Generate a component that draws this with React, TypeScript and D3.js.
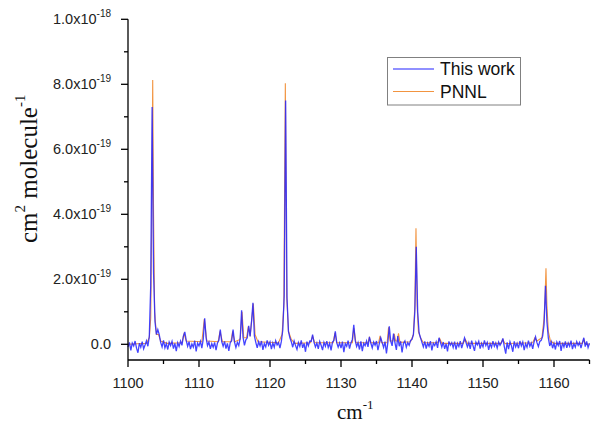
import React from "react";
import * as d3 from "d3";

// Measured spectrum on a regular grid (cm-1), values in units of 1e-20 cm2/molecule
const workStart = 1100;
const workStep = 0.2;
const thisWork = [
  -0.8, 0.6, -1.9, 0.4, -0.5, 1.0, -1.2, -2.6, 0.3, -0.9,
  0.8, -1.4, -0.2, 1.1, -0.6, 2.5, 18, 73, 22, 7,
  3, 4.5, 3, 0.6, -0.8, 1.2, -1.1, 0.2, -1.6, 0.7,
  -0.4, 0.9, -1.3, 0.3, -2.1, 0.5, -0.7, 1.0, -0.3, 2.5,
  3.8, 1.2, -0.6, 0.8, -1.5, 0.1, -0.9, 1.1, -2.2, 0.4,
  -0.5, 0.9, -1.2, 1.6, 8, 2, -0.4, 0.7, -1.4, 0.2,
  -0.9, 0.6, -1.8, 0.4, 1.2, 4.5, 0.8, -0.6, 0.9, -1.3,
  0.3, -2.0, 0.5, 1.1, 4.5, 0.7, -1.0, 0.6, -0.4, 1.8,
  10.5, 2.2, -0.3, 1.4, 2, 5.7, 2.4, 7, 12.8, 2.6,
  0.6, -1.1, 0.8, -0.5, 1.0, -1.7, 0.2, -0.8, 1.2, -0.3,
  0.7, -1.5, 0.4, -0.9, 1.1, -0.2, 0.5, -1.2, 0.9, 4.4,
  15, 75, 14, 4, 2, 0.8, -0.9, 1.0, -0.4, -1.6,
  0.5, -0.7, 1.2, -1.1, 0.3, -2.3, 0.8, -0.5, 1.0, 0.9,
  3, 0.6, -0.8, 0.4, -1.4, 0.9, -0.3, -1.8, 0.6, -0.6,
  1.0, -1.0, 0.3, -1.9, 0.7, 1.2, 4, 0.5, -0.9, 0.4,
  -1.2, 0.8, -2.4, 0.2, -0.6, 1.1, -1.3, 0.4, 1.5, 6,
  1.2, -0.7, 0.5, -1.6, 0.9, -2.1, 0.3, -0.4, 1.0, -0.8,
  2.3, 0.4, -1.1, 0.7, -0.3, 1.0, -1.8, 0.2, 2, 0.5,
  -1.0, 0.8, -2.8, 0.6, 5.5, 1.0, -0.5, 3.3, 0.4, -1.7,
  2.5, -0.6, 0.9, -2.5, 0.3, 1.0, -0.9, 0.5, -0.3, 1.2,
  1.5, 3, 10, 30, 10, 3.5, 2, 0.6, -0.8, 0.9,
  -1.3, 0.4, -0.6, 1.0, -1.9, 0.3, -0.4, 0.8, -1.1, 2,
  0.6, -0.9, 0.7, -1.4, 0.2, -2.2, 0.9, -0.3, 0.5, -1.0,
  0.8, -1.6, 0.3, -0.7, 1.0, -1.2, 0.4, 2, 0.6, -0.8,
  0.5, -1.4, 1.1, -0.5, -2.0, 0.7, -0.2, 0.9, -1.3, 0.3,
  -0.8, 1.2, -0.4, 0.6, -1.7, 0.2, -0.9, 1.0, -0.6, 0.4,
  -1.1, 0.7, -0.3, 0.5, 1.8, -0.7, -2.9, 0.6, -1.5, 0.8,
  -0.4, -2.3, 0.9, -0.8, 0.3, -1.2, 1.0, -0.5, 0.7, -1.8,
  0.2, -0.9, 1.1, -0.6, 0.4, -1.4, 0.8, 2.3, 0.5, -0.7,
  0.9, 1.2, 2.5, 6, 18, 7, 2, -0.5, 0.8, -1.2,
  0.3, -1.6, 0.7, -0.4, 1.0, -2.0, 0.5, -0.8, 0.9, -1.1,
  0.4, -0.6, 1.1, -1.5, 0.2, -0.9, 0.8, -0.3, 0.6, -1.2,
  0.5, 2, -0.7, 0.9, -1.0, 0.3,
];

// PNNL reference spectrum: wavenumber (cm-1) / value (1e-20 cm2/molecule)
const pnnl = [
  [1100, 0], [1102.6, 0.3], [1103.0, 2], [1103.2, 8], [1103.35, 40], [1103.48, 81.3],
  [1103.6, 40], [1103.75, 10], [1104.0, 3], [1104.3, 3], [1104.6, 1], [1105.5, 0.3],
  [1107.6, 0.5], [1107.9, 3.2], [1108.2, 1], [1110.4, 0.8], [1110.75, 7.8], [1111.1, 1],
  [1112.7, 0.8], [1112.96, 4], [1113.3, 0.8], [1114.5, 0.8], [1114.74, 4], [1115.0, 0.8],
  [1115.8, 1.5], [1116.06, 10], [1116.3, 2], [1116.7, 2], [1116.95, 5.5], [1117.2, 2.5],
  [1117.4, 7], [1117.65, 12.5], [1117.9, 3], [1118.3, 0.8], [1121.2, 0.5], [1121.7, 3],
  [1121.95, 12], [1122.16, 80.3], [1122.35, 15], [1122.6, 4], [1123.0, 1.5], [1123.5, 0.3],
  [1125.7, 0.5], [1126.0, 2.5], [1126.3, 0.5], [1128.9, 0.5], [1129.15, 3.5], [1129.4, 0.5],
  [1131.6, 0.5], [1131.8, 5], [1132.1, 0.5], [1133.8, 0.5], [1134.0, 2], [1134.2, 0.5],
  [1135.3, 0.5], [1135.5, 2.6], [1135.7, 0.5], [1136.5, 0.5], [1136.7, 5.2], [1136.9, 1],
  [1137.3, 1], [1137.5, 3.2], [1137.7, 1], [1137.9, 1], [1138.1, 3.4], [1138.3, 0.6],
  [1139.8, 0.8], [1140.2, 3], [1140.4, 12], [1140.56, 35.7], [1140.72, 12], [1140.9, 4],
  [1141.2, 2], [1141.6, 0.5], [1143.6, 0.5], [1143.9, 1.8], [1144.2, 0.3], [1147.2, 0.3],
  [1147.5, 1.5], [1147.8, 0.3], [1152.5, 0.3], [1152.8, 1.5], [1153.1, 0.2], [1157.0, 0.5],
  [1157.3, 2], [1157.6, 1], [1158.3, 2], [1158.6, 8], [1158.75, 15], [1158.87, 23.4],
  [1159.0, 12], [1159.2, 4], [1159.5, 1], [1160, 0.3], [1164, 0.3], [1164.2, 1.5],
  [1164.4, 0.2], [1165, 0],
];

// Axis ticks
const xMajor = [1100, 1110, 1120, 1130, 1140, 1150, 1160];
const xMinor = [1105, 1115, 1125, 1135, 1145, 1155, 1165];
const yMajor = [0, 2e-19, 4e-19, 6e-19, 8e-19, 1e-18];
const yMinor = [1e-19, 3e-19, 5e-19, 7e-19, 9e-19];
const yMantissa = ["0.0", "2.0", "4.0", "6.0", "8.0", "1.0"];
const yExponent = ["", "-19", "-19", "-19", "-19", "-18"];

const seriesNames = ["This work", "PNNL"];

const blue = "#2323ff";
const orange = "#f29440";

export default function App() {
  const width = 591,
    height = 423;

  const x = d3.scaleLinear().domain([1100, 1165]).range([128, 589.5]);
  const y = d3.scaleLinear().domain([-4.83e-20, 1e-18]).range([360, 19.3]);

  const workPts: [number, number][] = thisWork.map((v, i) => [workStart + i * workStep, v * 1e-20]);
  const pnnlPts: [number, number][] = pnnl.map((d) => [d[0], d[1] * 1e-20]);

  const line = d3
    .line<[number, number]>()
    .x((d) => x(d[0]))
    .y((d) => y(d[1]));

  const x0 = x.range()[0];
  const yBottom = y.range()[0];
  const sans = "'Liberation Sans', Arial, sans-serif";
  const serif = "'Liberation Serif', 'Times New Roman', serif";

  return (
    <svg
      width={width}
      height={height}
      style={{ position: "absolute", left: 0, top: 0, background: "#fff" }}
    >
      {/* spectra */}
      <path d={line(pnnlPts) || ""} fill="none" stroke={orange} strokeWidth={1.1} />
      <path d={line(workPts) || ""} fill="none" stroke={blue} strokeWidth={1.3} strokeOpacity={0.85} />

      {/* y axis */}
      <line x1={x0} x2={x0} y1={y(1e-18)} y2={yBottom} stroke="#000" strokeWidth={1.3} />
      {yMajor.map((v) => (
        <line key={"ym" + v} x1={x0 - 7} x2={x0} y1={y(v)} y2={y(v)} stroke="#000" strokeWidth={1.3} />
      ))}
      {yMinor.map((v) => (
        <line key={"yn" + v} x1={x0 - 4} x2={x0} y1={y(v)} y2={y(v)} stroke="#000" strokeWidth={1.3} />
      ))}
      {yMajor.map((v, i) => (
        <text key={"yl" + v} x={111} y={y(v) + 5} textAnchor="end" fontFamily={sans} fontSize={14.5} fill="#222">
          <tspan>{yExponent[i] ? yMantissa[i] + "x10" : yMantissa[i]}</tspan>
          {yExponent[i] && (
            <tspan dy={-7} fontSize={10}>
              {yExponent[i]}
            </tspan>
          )}
        </text>
      ))}

      {/* x axis */}
      <line x1={x0} x2={x(1165)} y1={yBottom} y2={yBottom} stroke="#000" strokeWidth={1.3} />
      {xMajor.map((v) => (
        <line key={"xm" + v} x1={x(v)} x2={x(v)} y1={yBottom} y2={yBottom + 7} stroke="#000" strokeWidth={1.3} />
      ))}
      {xMinor.map((v) => (
        <line key={"xn" + v} x1={x(v)} x2={x(v)} y1={yBottom} y2={yBottom + 4} stroke="#000" strokeWidth={1.3} />
      ))}
      {xMajor.map((v) => (
        <text key={"xl" + v} x={x(v)} y={388} textAnchor="middle" fontFamily={sans} fontSize={14.5} fill="#222">
          {v}
        </text>
      ))}

      {/* axis titles */}
      <text x={337} y={419} fontFamily={serif} fontSize={21} fill="#111">
        <tspan>cm</tspan>
        <tspan dy={-10} fontSize={13}>-1</tspan>
      </text>
      <text
        transform="translate(37,243) rotate(-90)"
        fontFamily={serif}
        fontSize={25}
        fill="#111"
      >
        <tspan>cm</tspan>
        <tspan dy={-12} fontSize={15}>2</tspan>
        <tspan dy={12}> molecule</tspan>
        <tspan dy={-12} fontSize={15}>-1</tspan>
      </text>

      {/* legend */}
      <rect x={387.5} y={57.5} width={133} height={47.5} fill="#fff" stroke="#808080" strokeWidth={1} />
      {seriesNames.map((name, i) => (
        <g key={name} transform={`translate(393, ${69 + i * 22.5})`}>
          <line x1={0} x2={41} y1={0} y2={0} stroke={i === 0 ? blue : orange} strokeWidth={1.2} />
          <text x={47} y={6} fontFamily={sans} fontSize={17.5} fill="#111">
            {name}
          </text>
        </g>
      ))}
    </svg>
  );
}
